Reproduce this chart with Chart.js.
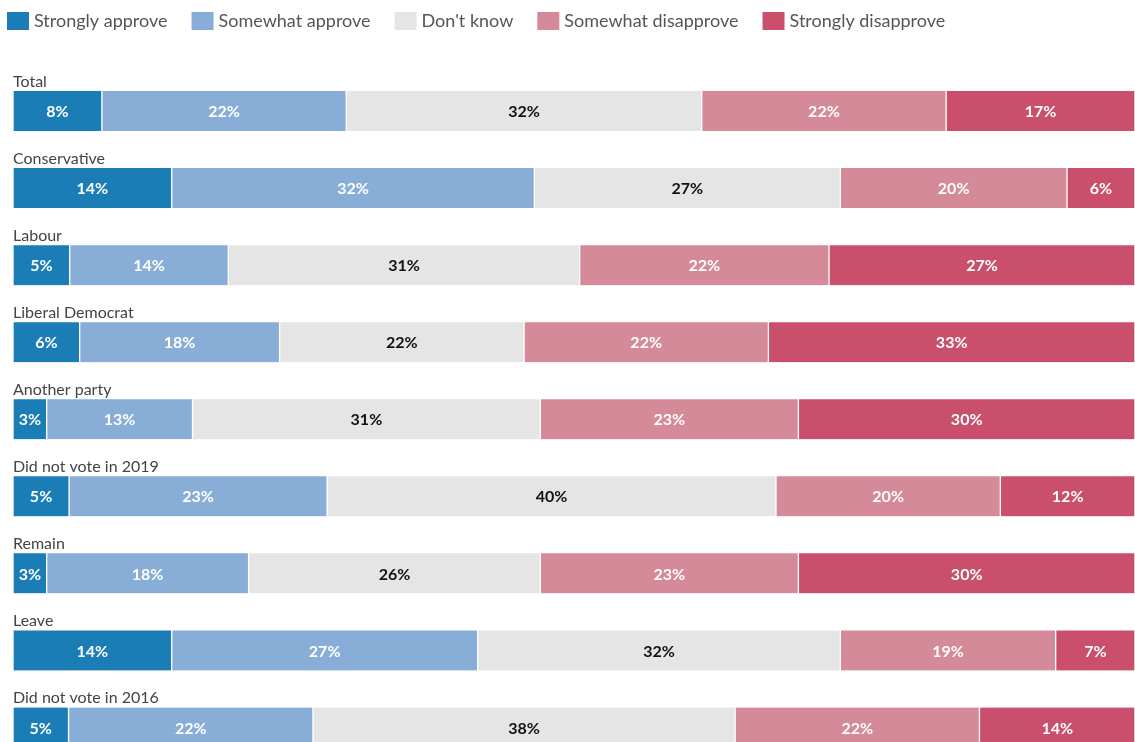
<!DOCTYPE html>
<html>
<head>
<meta charset="utf-8">
<script src="https://cdn.jsdelivr.net/npm/chart.js@4/dist/chart.umd.min.js"></script>
<style>
  html, body { margin: 0; padding: 0; background: #fff; overflow: hidden; }
  #wrap { position: relative; width: 1135px; height: 766px; }
</style>
</head>
<body>
<div id="wrap"><canvas id="myChart"></canvas></div>
<script>
// groups shown as rows, top to bottom
const groups = ['Total', 'Conservative', 'Labour', 'Liberal Democrat', 'Another party',
  'Did not vote in 2019', 'Remain', 'Leave', 'Did not vote in 2016'];

const answers = ['Strongly approve', 'Somewhat approve', "Don't know", 'Somewhat disapprove', 'Strongly disapprove'];

// percentages per answer, one entry per group
const stronglyApprove    = [8, 14, 5, 6, 3, 5, 3, 14, 5];
const somewhatApprove    = [22, 32, 14, 18, 13, 23, 18, 27, 22];
const dontKnow           = [32, 27, 31, 22, 31, 40, 26, 32, 38];
const somewhatDisapprove = [22, 20, 22, 22, 23, 20, 23, 19, 22];
const stronglyDisapprove = [17, 6, 27, 33, 30, 12, 30, 7, 14];

const colors = ['#1a7db5', '#88aed8', '#e5e5e5', '#d48a99', '#c94f6d'];
const labelColors = ['#fff', '#fff', '#111', '#fff', '#fff'];

const series = [stronglyApprove, somewhatApprove, dontKnow, somewhatDisapprove, stronglyDisapprove];

// rounded figures don't always add to 100, so each row is scaled to fill the width
const rowTotals = groups.map((g, i) => series.reduce((s, arr) => s + arr[i], 0));

const datasets = series.map((values, k) => ({
  label: answers[k],
  data: values.map((v, i) => v / rowTotals[i] * 100),
  raw: values,
  backgroundColor: colors[k],
  borderColor: '#fff',
  borderWidth: { left: 1, right: 1, top: 0, bottom: 0 },
  borderSkipped: false,
  barThickness: 40
}));

const FONT = 'Lato, "Open Sans", sans-serif';

const barLabels = {
  id: 'barLabels',
  afterDatasetsDraw(chart) {
    const ctx = chart.ctx;
    const area = chart.chartArea;
    ctx.save();
    // value inside each segment
    ctx.font = 'bold 16px ' + FONT;
    ctx.textAlign = 'center';
    ctx.textBaseline = 'middle';
    chart.data.datasets.forEach((ds, k) => {
      const meta = chart.getDatasetMeta(k);
      meta.data.forEach((bar, i) => {
        ctx.fillStyle = labelColors[k];
        ctx.fillText(ds.raw[i] + '%', (bar.x + bar.base) / 2, bar.y + 1);
      });
    });
    // group name above each bar
    ctx.font = '16px ' + FONT;
    ctx.textAlign = 'left';
    ctx.textBaseline = 'alphabetic';
    ctx.fillStyle = '#444';
    const first = chart.getDatasetMeta(0);
    first.data.forEach((bar, i) => {
      ctx.fillText(groups[i], area.left, bar.y - bar.height / 2 - 4);
    });
    ctx.restore();
  }
};

// one-line legend across the top, items packed left to right
const topLegend = {
  id: 'topLegend',
  afterDraw(chart) {
    const ctx = chart.ctx;
    ctx.save();
    ctx.font = '18px ' + FONT;
    ctx.textAlign = 'left';
    ctx.textBaseline = 'middle';
    let x = 7;
    chart.data.datasets.forEach((ds) => {
      ctx.fillStyle = ds.backgroundColor;
      ctx.fillRect(x, 12, 22, 18);
      ctx.fillStyle = '#555';
      ctx.fillText(ds.label, x + 27, 21);
      x += 27 + ctx.measureText(ds.label).width + 24;
    });
    ctx.restore();
  }
};

new Chart(document.getElementById('myChart'), {
  type: 'bar',
  data: { labels: groups, datasets: datasets },
  plugins: [barLabels, topLegend],
  options: {
    indexAxis: 'y',
    responsive: true,
    maintainAspectRatio: false,
    animation: false,
    layout: { padding: { top: 72.5, right: 0, bottom: 0, left: 0 } },
    scales: {
      x: { stacked: true, min: 0, max: 100, display: false },
      y: {
        stacked: true,
        grid: { display: false },
        border: { display: false },
        ticks: { display: false },
        afterFit(scale) { scale.width = 13; }
      }
    },
    plugins: {
      tooltip: { enabled: false },
      legend: { display: false }
    }
  }
});
</script>
</body>
</html>
